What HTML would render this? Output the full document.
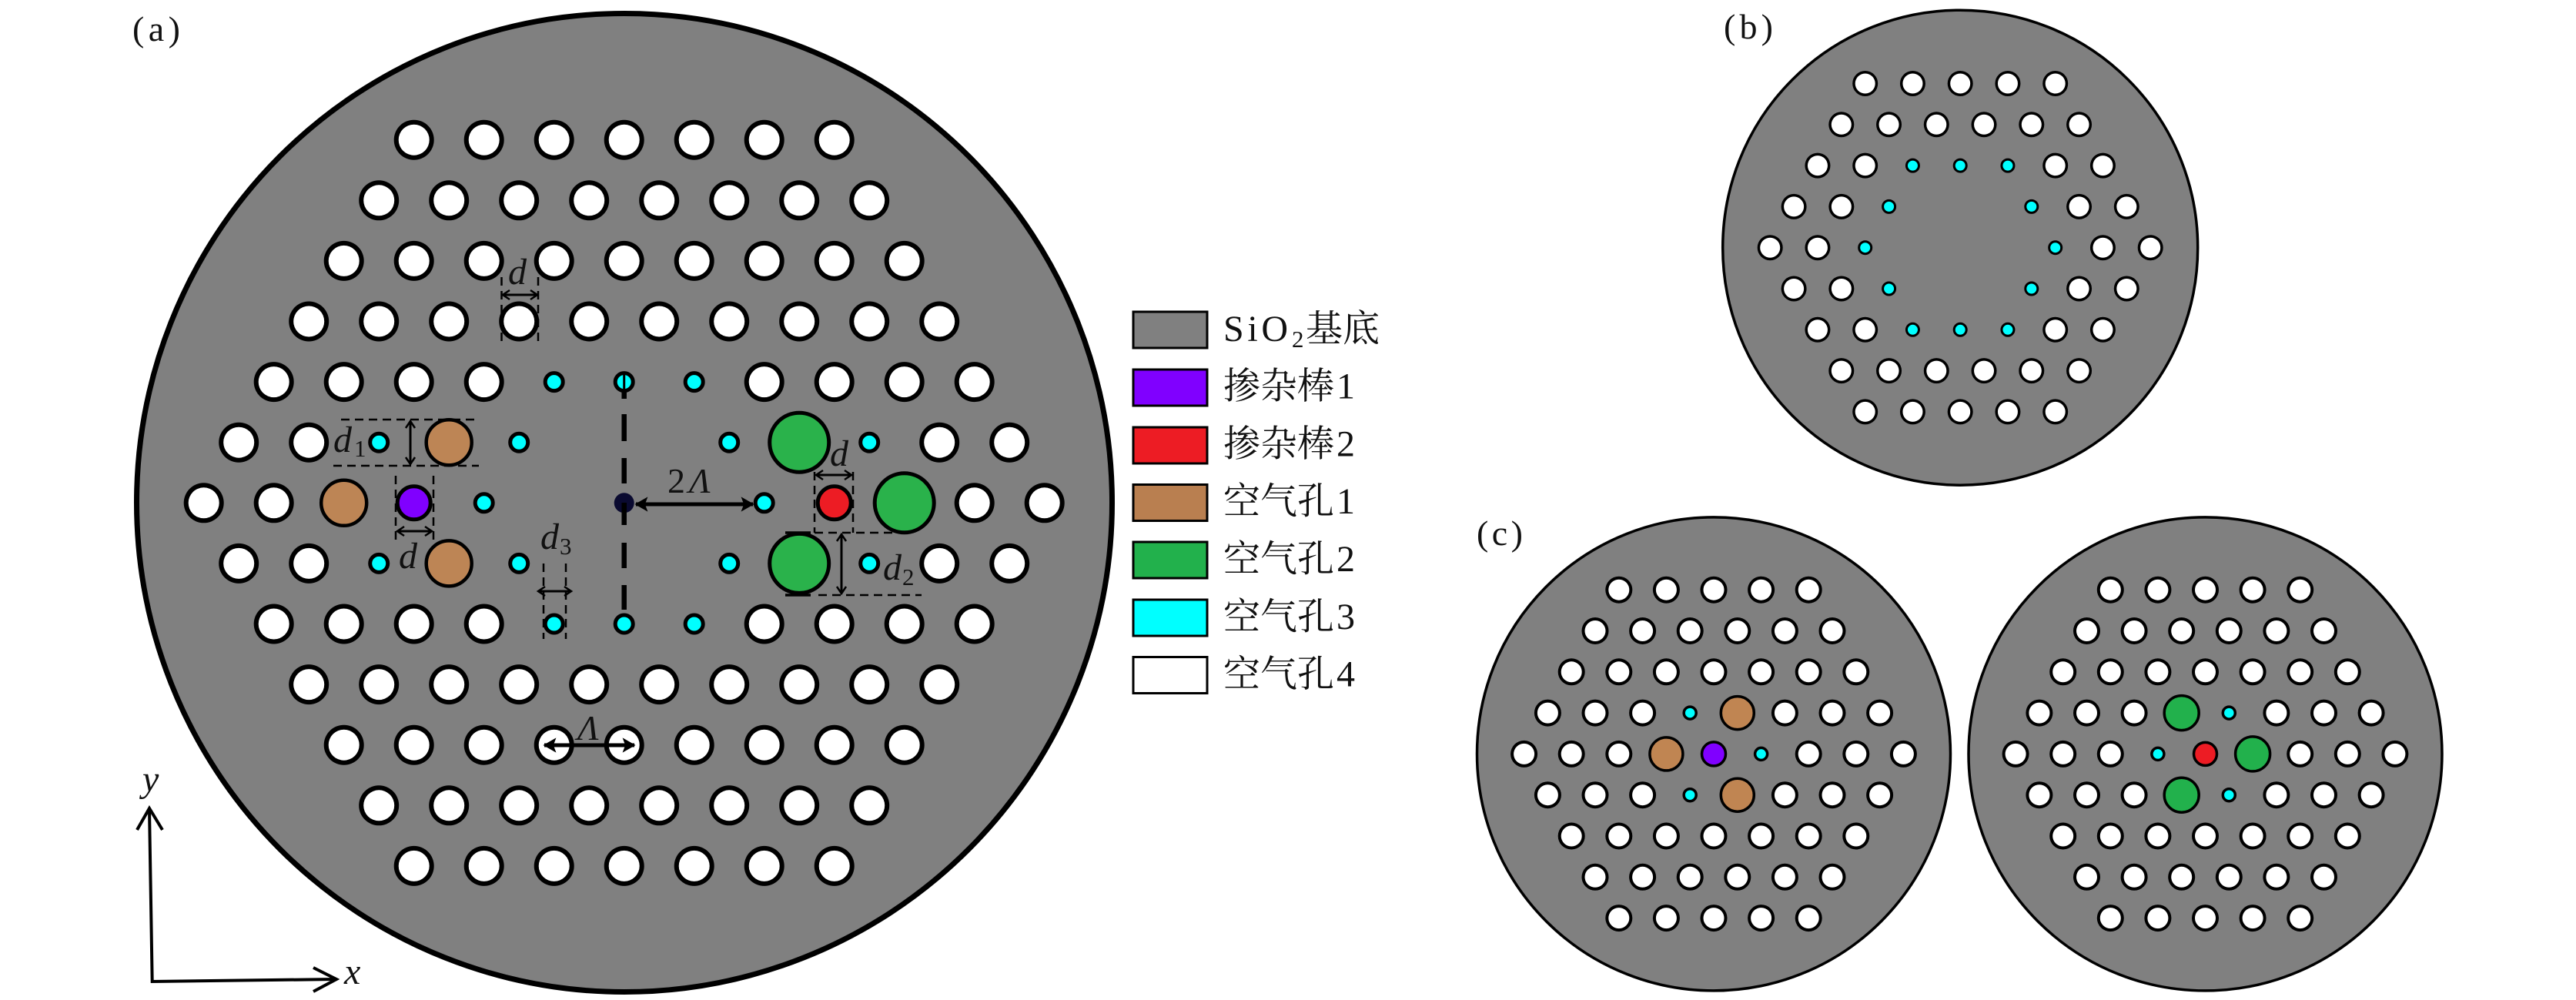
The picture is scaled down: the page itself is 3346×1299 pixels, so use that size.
<!DOCTYPE html>
<html>
<head>
<meta charset="utf-8">
<style>
html,body{margin:0;padding:0;background:#fff;}
svg{display:block;}
text{font-family:"Liberation Serif","Noto Serif CJK SC",serif;fill:#111;}
.m{font-style:italic;font-size:48px;}
.s{font-style:normal;font-size:31px;}
.leg{font-size:48px;}
</style>
</head>
<body>
<svg width="3346" height="1299" viewBox="0 0 3346 1299" xmlns="http://www.w3.org/2000/svg">
<defs>
<path id="a4" fill="none" stroke-linecap="round" stroke-dasharray="0 91" d="
M-273 -471.6H273.1 M-318.5 -393H318.6 M-364 -314.4H364.1 M-409.5 -235.8H409.6
M-455 -157.2H-181.9 M182 -157.2H455.1 M-500.5 -78.6H-409.4 M409.5 -78.6H500.6
M-546 0H-454.9 M455 0H546.1
M-500.5 78.6H-409.4 M409.5 78.6H500.6 M-455 157.2H-181.9 M182 157.2H455.1
M-409.5 235.8H409.6 M-364 314.4H364.1 M-318.5 393H318.6 M-273 471.6H273.1"/>
<path id="b4" fill="none" stroke-linecap="round" stroke-dasharray="0 61.75" d="
M-123.5 -213.2H123.6 M-154.4 -159.9H154.5 M-185.25 -106.6H-123.4 M123.5 -106.6H185.35
M-216.1 -53.3H-154.3 M154.35 -53.3H216.2 M-247 0H-185.2 M185.25 0H247.1
M-216.1 53.3H-154.3 M154.35 53.3H216.2 M-185.25 106.6H-123.4 M123.5 106.6H185.35
M-154.4 159.9H154.5 M-123.5 213.2H123.6"/>
<path id="c4" fill="none" stroke-linecap="round" stroke-dasharray="0 61.6" d="
M-123.2 -213.2H123.3 M-154 -159.9H154.1 M-184.8 -106.6H184.9
M-215.6 -53.3H-92.3 M92.4 -53.3H215.7 M-246.4 0H-123.1 M123.2 0H246.5
M-215.6 53.3H-92.3 M92.4 53.3H215.7 M-184.8 106.6H184.9 M-154 159.9H154.1 M-123.2 213.2H123.3"/>
<marker id="hs" markerUnits="userSpaceOnUse" markerWidth="24" markerHeight="24" refX="12" refY="12" orient="auto-start-reverse" overflow="visible">
<path d="M3 6 L12 12 L3 18" fill="none" stroke="#000" stroke-width="2.5"/>
</marker>
<marker id="hb" markerUnits="userSpaceOnUse" markerWidth="30" markerHeight="30" refX="15" refY="15" orient="auto-start-reverse" overflow="visible">
<path d="M1 7 L15 15 L1 23 L4 15 Z" fill="#000" stroke="#000" stroke-width="1.5"/>
</marker>
</defs>

<!-- (a) -->
<text x="172" y="53" font-size="46" textLength="62" lengthAdjust="spacing">(a)</text>
<ellipse cx="811" cy="653" rx="633.5" ry="635.5" fill="#808080" stroke="#000" stroke-width="7"/>
<g transform="translate(810.7 653.3)">
<use href="#a4" stroke="#000" stroke-width="52"/>
<use href="#a4" stroke="#fff" stroke-width="40"/>
<g fill="#00ffff" stroke="#000" stroke-width="5">
<circle cx="-91" cy="-157.2" r="11.5"/><circle cx="0" cy="-157.2" r="11.5"/><circle cx="91" cy="-157.2" r="11.5"/>
<circle cx="-91" cy="157.2" r="11.5"/><circle cx="0" cy="157.2" r="11.5"/><circle cx="91" cy="157.2" r="11.5"/>
<circle cx="-318.5" cy="-78.6" r="11.5"/><circle cx="-136.5" cy="-78.6" r="11.5"/><circle cx="136.5" cy="-78.6" r="11.5"/><circle cx="318.5" cy="-78.6" r="11.5"/>
<circle cx="-318.5" cy="78.6" r="11.5"/><circle cx="-136.5" cy="78.6" r="11.5"/><circle cx="136.5" cy="78.6" r="11.5"/><circle cx="318.5" cy="78.6" r="11.5"/>
<circle cx="-182" cy="0" r="11.5"/><circle cx="182" cy="0" r="11.5"/>
</g>
<g fill="#bd8555" stroke="#000" stroke-width="4.5">
<circle cx="-364" cy="0" r="29.5"/><circle cx="-227.5" cy="-78.6" r="29.5"/><circle cx="-227.5" cy="78.6" r="29.5"/>
</g>
<g fill="#2ab24b" stroke="#000" stroke-width="5">
<circle cx="364" cy="0" r="38.5"/><circle cx="227.5" cy="-78.6" r="38.5"/><circle cx="227.5" cy="78.6" r="38.5"/>
</g>
<circle cx="-273" cy="0" r="21.5" fill="#8000ff" stroke="#000" stroke-width="5"/>
<circle cx="273" cy="0" r="21.5" fill="#ed1c24" stroke="#000" stroke-width="5"/>
<circle cx="0" cy="0" r="13" fill="#0a0a30"/>
</g>
<!-- centre dashed line -->
<path d="M810.7 484V505" stroke="#000" stroke-width="3" fill="none"/>
<path d="M810.7 505V518M810.7 538V573M810.7 595V628M810.7 653V682M810.7 705V738M810.7 760V792" stroke="#000" stroke-width="6.5" fill="none"/>
<!-- dashed guides -->
<g fill="none" stroke="#000" stroke-width="2.5" stroke-dasharray="11 7">
<path d="M443 545H620"/><path d="M433 605H622"/>
<path d="M514 618V708"/><path d="M563 618V708"/>
<path d="M706 732V830"/><path d="M735 732V830"/>
<path d="M651.5 360V443"/><path d="M699 360V443"/>
<path d="M1058 613V692"/><path d="M1108 613V692"/>
<path d="M1058 692H1160"/><path d="M1063 773H1197"/>
</g>
<path d="M1020 692H1053M1020 773H1053" stroke="#000" stroke-width="3.5" fill="none"/>
<!-- arrows -->
<g fill="none" stroke="#000" stroke-width="3" marker-start="url(#hs)" marker-end="url(#hs)">
<path d="M533 547V603"/>
<path d="M516 690H561"/>
<path d="M699 768H742"/>
<path d="M653 383H698"/>
<path d="M1060 617H1106"/>
<path d="M1093 694V771"/>
</g>
<g fill="none" stroke="#000" stroke-width="5" marker-start="url(#hb)" marker-end="url(#hb)">
<path d="M826 655H978"/>
<path d="M707 968H824"/>
</g>
<!-- math labels -->
<text class="m" x="433" y="587">d<tspan class="s" dx="3" dy="6">1</tspan></text>
<text class="m" x="518" y="738">d</text>
<text class="m" x="702" y="713">d<tspan class="s" dx="1" dy="7">3</tspan></text>
<text class="m" x="660" y="369">d</text>
<text class="m" x="1078" y="605">d</text>
<text class="m" x="1147" y="753">d<tspan class="s" dx="1" dy="7">2</tspan></text>
<text x="867" y="640" font-size="46">2</text>
<text x="895" y="640" font-size="46" font-style="italic">Λ</text>
<text x="750" y="961" font-size="46" font-style="italic">Λ</text>
<!-- axes -->
<g fill="none" stroke="#000" stroke-width="4">
<path d="M194 1051L197.7 1275L436 1272"/>
<path d="M178 1078L194 1050L211 1078"/>
<path d="M407 1257L437 1272L407 1288"/>
</g>
<text x="185" y="1028" class="m">y</text>
<text x="447" y="1278" class="m">x</text>

<!-- legend -->
<g stroke="#000" stroke-width="3">
<rect x="1472" y="405" width="96" height="47" fill="#808080"/>
<rect x="1472" y="480" width="96" height="47" fill="#8000ff"/>
<rect x="1472" y="555" width="96" height="47" fill="#ed1c24"/>
<rect x="1472" y="629.5" width="96" height="47" fill="#b97f50"/>
<rect x="1472" y="704" width="96" height="47" fill="#22b14c"/>
<rect x="1472" y="779" width="96" height="47" fill="#00ffff"/>
<rect x="1472" y="853.5" width="96" height="47" fill="#ffffff"/>
</g>
<text class="leg" x="1589" y="443" textLength="84" lengthAdjust="spacing">SiO</text>
<text x="1678" y="451" font-size="31">2</text>
<text class="leg" x="1696" y="443">基底</text>
<text class="leg" x="1589" y="517.5">掺杂棒<tspan dx="3">1</tspan></text>
<text class="leg" x="1589" y="592.5">掺杂棒<tspan dx="3">2</tspan></text>
<text class="leg" x="1589" y="667">空气孔<tspan dx="3">1</tspan></text>
<text class="leg" x="1589" y="742">空气孔<tspan dx="3">2</tspan></text>
<text class="leg" x="1589" y="817">空气孔<tspan dx="3">3</tspan></text>
<text class="leg" x="1589" y="891.5">空气孔<tspan dx="3">4</tspan></text>

<!-- (b) -->
<text x="2239" y="50" font-size="46" textLength="64" lengthAdjust="spacing">(b)</text>
<circle cx="2546.2" cy="321.7" r="308.5" fill="#808080" stroke="#000" stroke-width="3.5"/>
<g transform="translate(2546.2 321.7)">
<use href="#b4" stroke="#000" stroke-width="33"/>
<use href="#b4" stroke="#fff" stroke-width="26"/>
<g fill="#00ffff" stroke="#000" stroke-width="3">
<circle cx="-61.75" cy="-106.6" r="8"/><circle cx="0" cy="-106.6" r="8"/><circle cx="61.75" cy="-106.6" r="8"/>
<circle cx="-61.75" cy="106.6" r="8"/><circle cx="0" cy="106.6" r="8"/><circle cx="61.75" cy="106.6" r="8"/>
<circle cx="-92.6" cy="-53.3" r="8"/><circle cx="92.6" cy="-53.3" r="8"/>
<circle cx="-92.6" cy="53.3" r="8"/><circle cx="92.6" cy="53.3" r="8"/>
<circle cx="-123.5" cy="0" r="8"/><circle cx="123.5" cy="0" r="8"/>
</g>
</g>

<!-- (c) -->
<text x="1918" y="708" font-size="46" textLength="60" lengthAdjust="spacing">(c)</text>
<circle cx="2226" cy="979.4" r="307.5" fill="#808080" stroke="#000" stroke-width="3.5"/>
<circle cx="2864.5" cy="979.4" r="307.5" fill="#808080" stroke="#000" stroke-width="3.5"/>
<g transform="translate(2226 979.4)">
<use href="#c4" stroke="#000" stroke-width="35"/>
<use href="#c4" stroke="#fff" stroke-width="27"/>
<g fill="#00ffff" stroke="#000" stroke-width="3.5">
<circle cx="61.6" cy="0" r="8"/><circle cx="-30.8" cy="-53.3" r="8"/><circle cx="-30.8" cy="53.3" r="8"/>
</g>
<g fill="#c08552" stroke="#000" stroke-width="3.5">
<circle cx="-61.6" cy="0" r="21.5"/><circle cx="30.8" cy="-53.3" r="21.5"/><circle cx="30.8" cy="53.3" r="21.5"/>
</g>
<circle cx="0" cy="0" r="15.5" fill="#8000ff" stroke="#000" stroke-width="3.5"/>
</g>
<g transform="translate(2864.5 979.4)">
<use href="#c4" stroke="#000" stroke-width="35"/>
<use href="#c4" stroke="#fff" stroke-width="27"/>
<g fill="#00ffff" stroke="#000" stroke-width="3.5">
<circle cx="-61.6" cy="0" r="8"/><circle cx="30.8" cy="-53.3" r="8"/><circle cx="30.8" cy="53.3" r="8"/>
</g>
<g fill="#22b14c" stroke="#000" stroke-width="3.5">
<circle cx="61.6" cy="0" r="22.5"/><circle cx="-30.8" cy="-53.3" r="22.5"/><circle cx="-30.8" cy="53.3" r="22.5"/>
</g>
<circle cx="0" cy="0" r="15" fill="#ed1c24" stroke="#000" stroke-width="3.5"/>
</g>
</svg>
</body>
</html>
